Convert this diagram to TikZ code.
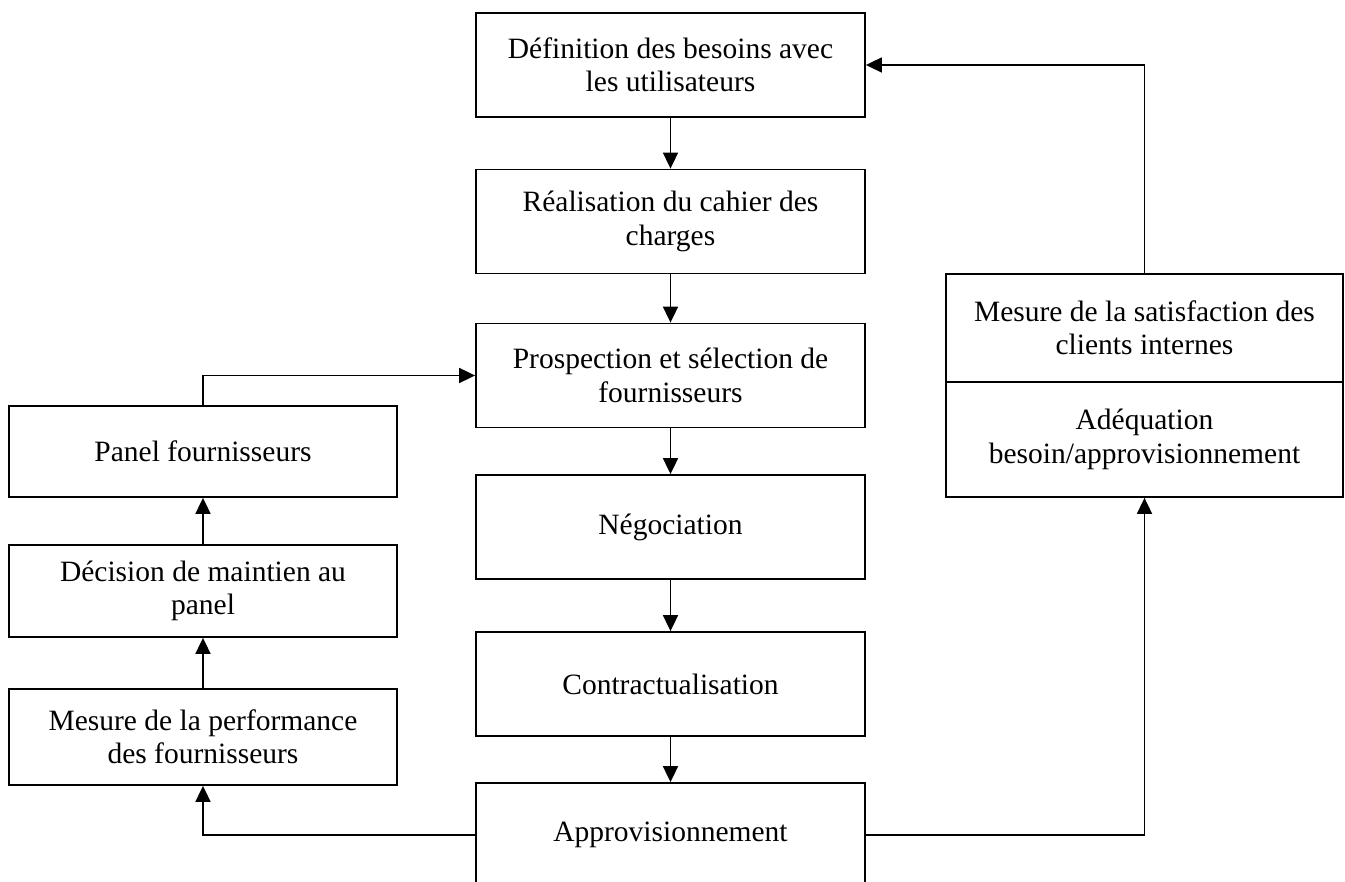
\documentclass[tikz,border=0pt]{standalone}
\usepackage{fontspec}
\setmainfont{Liberation Serif}
\usetikzlibrary{arrows.meta}
\begin{document}
\begin{tikzpicture}[x=1pt,y=-1pt,
  box/.style={draw,line width=1.8pt,rectangle,inner sep=0pt,align=center,
    font=\fontsize{29.5}{33.5}\selectfont},
  central/.style={box,minimum width=389pt,minimum height=104pt},
  side/.style={box,minimum width=388pt},
  right/.style={box,minimum width=397pt},
  flow/.style={line width=1.8pt,-{Triangle[length=16pt,width=15pt]}}]
\useasboundingbox (0,0) rectangle (1345,882);
\begin{scope}
\clip (0,0) rectangle (1345,882);
% main chain
\node[central] (def) at (670.5,65) {Définition des besoins avec\\les utilisateurs};
\node[central] (cdc) at (670.5,221.5) {Réalisation du cahier des\\charges};
\node[central] (pro) at (670.5,375.5) {Prospection et sélection de\\fournisseurs};
\node[central] (neg) at (670.5,527) {Négociation};
\node[central] (con) at (670.5,684) {Contractualisation};
\node[central] (app) at (670.5,835) {Approvisionnement};
% supplier loop
\node[side,minimum height=91pt] (pan) at (203,451.5) {Panel fournisseurs};
\node[side,minimum height=92pt] (dec) at (203,591) {Décision de maintien au\\panel};
\node[side,minimum height=96pt] (mes) at (203,737) {Mesure de la performance\\des fournisseurs};
% customer loop
\node[right,minimum height=108pt] (sat) at (1144.5,328) {Mesure de la satisfaction des\\clients internes};
\node[right,minimum height=115pt] (adq) at (1144.5,439.5) {Adéquation\\besoin/approvisionnement};
\end{scope}
\draw[flow] (def) -- (cdc);
\draw[flow] (cdc) -- (pro);
\draw[flow] (pro) -- (neg);
\draw[flow] (neg) -- (con);
\draw[flow] (con) -- (app);
\draw[flow] (app.west) -| (mes.south);
\draw[flow] (mes) -- (dec);
\draw[flow] (dec) -- (pan);
\draw[flow] (pan.north) |- (pro.west);
\draw[flow] (app.east) -| (adq.south);
\draw[flow] (sat.north) |- (def.east);
\end{tikzpicture}
\end{document}
